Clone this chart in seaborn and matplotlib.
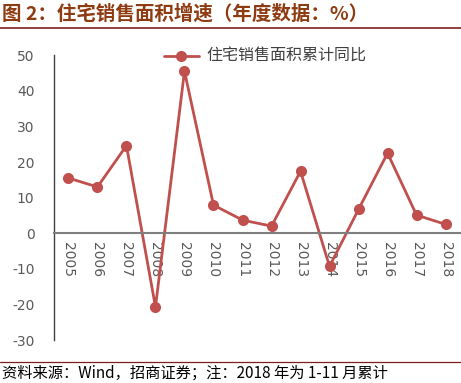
import pandas as pd
import matplotlib.pyplot as plt
import seaborn as sns
from matplotlib.lines import Line2D

# data
years = [str(y) for y in range(2005, 2019)]
growth = [15.5, 13.0, 24.6, -20.7, 45.5, 7.9, 3.7, 2.0, 17.4, -9.3, 6.7, 22.5, 5.1, 2.5]
series_name = "住宅销售面积累计同比"
title = "图 2：住宅销售面积增速（年度数据：%）"
source = "资料来源：Wind，招商证券；注：2018 年为 1-11 月累计"
yticks = [-30, -20, -10, 0, 10, 20, 30, 40, 50]

df = pd.DataFrame({"year": years, "value": growth})

sns.set_style("white")
plt.rcParams["font.family"] = ["Noto Sans CJK SC", "DejaVu Sans"]
plt.rcParams["axes.unicode_minus"] = False

red = "#C0504D"
brown = "#8E3B12"

fig = plt.figure(figsize=(4.61, 3.83), dpi=100)
ax = fig.add_axes([0.117, 0.112, 0.881, 0.744])

sns.lineplot(data=df, x="year", y="value", ax=ax, color=red, linewidth=2,
             marker="o", markersize=8, markeredgewidth=0, sort=False)

ax.set_xlim(-0.5, 13.5)
ax.set_ylim(-30, 50)
ax.set_yticks(yticks)
ax.set_xlabel("")
ax.set_ylabel("")

for s in ["top", "right"]:
    ax.spines[s].set_visible(False)
ax.spines["bottom"].set_position(("data", 0))
ax.spines["bottom"].set_color("#7F7F7F")
ax.spines["bottom"].set_linewidth(1.5)
ax.spines["left"].set_color("#404040")
ax.spines["left"].set_linewidth(1.0)

ax.tick_params(axis="y", length=0, pad=14, labelsize=10, labelcolor="#595959")
ax.tick_params(axis="x", length=0, pad=6, labelsize=10, labelcolor="#595959",
               labelrotation=270)
for lab in ax.get_yticklabels() + ax.get_xticklabels():
    lab.set_family("DejaVu Sans")

handle = Line2D([], [], color=red, linewidth=2, marker="o", markersize=8,
                markeredgewidth=0)
ax.legend([handle], [series_name], loc="upper left", bbox_to_anchor=(0.235, 1.075),
          frameon=False, fontsize=11.5, handlelength=2.2, handletextpad=0.5,
          labelcolor="#404040")

fig.text(0.005, 0.965, title, fontsize=14, fontweight="bold", color=brown,
         va="center", ha="left")
fig.add_artist(Line2D([0, 1], [0.928, 0.928], color="#7B1F1F", linewidth=1.2))
fig.add_artist(Line2D([0, 1], [0.055, 0.055], color="#7B1F1F", linewidth=0.9))
fig.text(0.005, 0.027, source, fontsize=11, color="black", va="center", ha="left")

plt.savefig("out.png", dpi=100)
